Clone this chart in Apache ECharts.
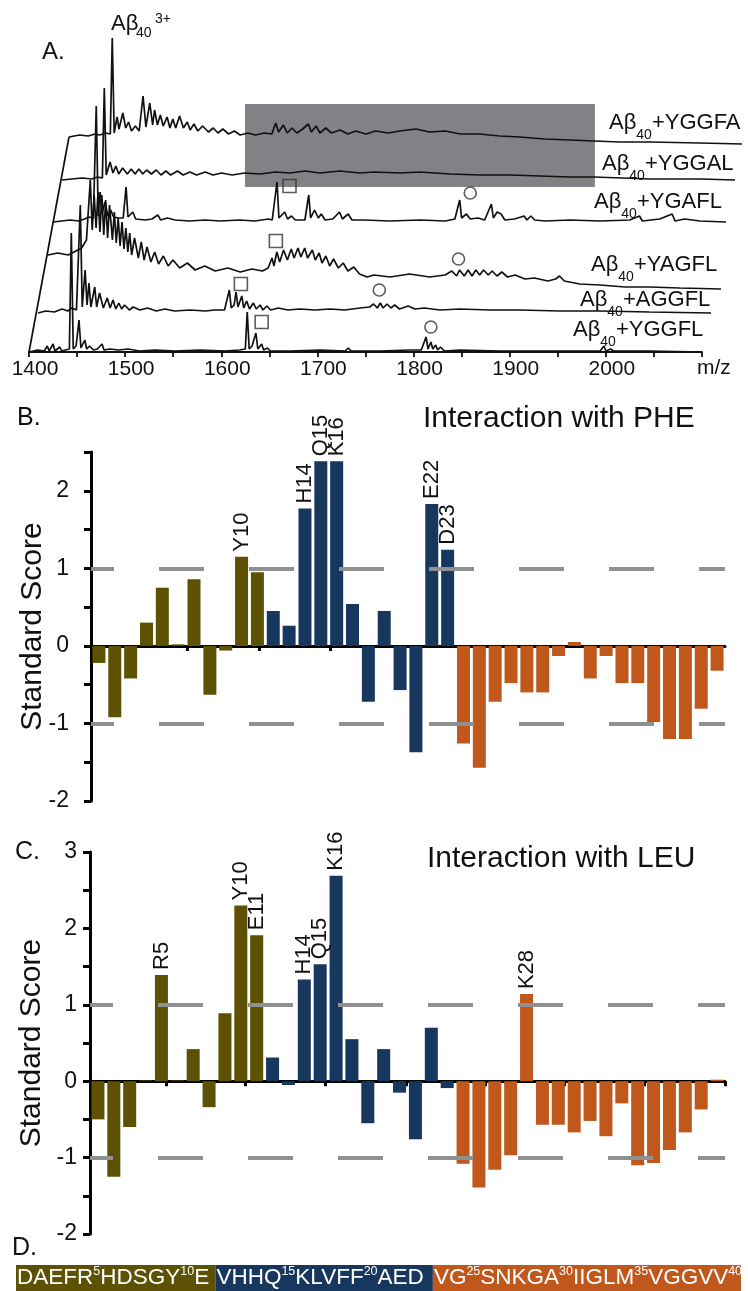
<!DOCTYPE html>
<html><head><meta charset="utf-8">
<script src="https://cdn.jsdelivr.net/npm/echarts@6/dist/echarts.min.js"></script>
<style>html,body{margin:0;padding:0;background:#fff}#c{width:748px;height:1291px}</style>
</head><body><div id="c"></div><script>
// ---------- DATA ----------
const sequence = 'DAEFRHDSGYEVHHQKLVFFAEDVGSNKGAIIGLMVGGVV';
const regionLengths = [11, 12, 17];
const regionColors = ['#5d5204', '#17375f', '#c0581c'];

const pheScores = [-0.22,-0.92,-0.42,0.30,0.75,0.02,0.86,-0.63,-0.06,1.15,0.95,0.45,0.26,1.77,2.38,2.38,0.54,-0.72,0.45,-0.57,-1.37,1.83,1.24,-1.26,-1.57,-0.72,-0.48,-0.60,-0.60,-0.13,0.05,-0.42,-0.13,-0.48,-0.48,-0.98,-1.20,-1.20,-0.81,-0.32];
const leuScores = [-0.50,-1.25,-0.60,0.01,1.39,0.01,0.42,-0.34,0.89,2.30,1.91,0.31,-0.05,1.33,1.53,2.69,0.55,-0.55,0.42,-0.15,-0.76,0.70,-0.09,-1.08,-1.39,-1.16,-0.97,1.14,-0.57,-0.57,-0.67,-0.52,-0.72,-0.29,-1.10,-1.07,-0.90,-0.67,-0.37,0.02];
const pheLabeled = [10,14,15,16,22,23];
const leuLabeled = [5,10,11,14,15,16,28];
const pheZeroTicks = [1.5,6.1,10.6,15.1,19.6,24.2,28.7,33.2,37.7];
const leuZeroTicks = [4.8,9.8,14.8,19.9,24.9,29.9,34.9,40];

const peptides = ['YGGFA','YGGAL','YGAFL','YAGFL','AGGFL','YGGFL'];
const specYGGFA = [[1400,0],[1411,2],[1420,1],[1427,3],[1432,2],[1438,4],[1443,3],[1445,99],[1447,4],[1450,20],[1452,8],[1454,10],[1456,24],[1459,9],[1462,15],[1465,6],[1469,11],[1473,6],[1477,41],[1480,10],[1484,34],[1487,12],[1489,27],[1492,12],[1495,22],[1498,11],[1502,20],[1505,9],[1508,18],[1511,9],[1515,21],[1519,9],[1523,15],[1526,7],[1530,13],[1534,6],[1539,11],[1545,5],[1550,9],[1555,4],[1560,8],[1566,3],[1572,6],[1578,2],[1586,4],[1594,2],[1603,4],[1611,3],[1615,14],[1618,5],[1623,12],[1627,4],[1632,9],[1637,4],[1643,8],[1649,13],[1652,5],[1657,11],[1661,4],[1667,9],[1673,4],[1682,7],[1690,3],[1698,6],[1709,3],[1719,6],[1732,4],[1744,6],[1761,8],[1775,5],[1791,6],[1807,3],[1827,3],[1848,1],[1869,0],[1895,-2],[1921,-3],[1946,-4],[1973,-5],[2004,-5],[2056,-6],[2100,-7]];
const specYGGAL = [[1400,0],[1410,1],[1421,2],[1431,1],[1437,3],[1442,2],[1444,92],[1446,5],[1450,18],[1453,7],[1456,14],[1459,6],[1463,12],[1468,6],[1472,11],[1476,6],[1480,11],[1484,6],[1488,10],[1493,6],[1498,10],[1503,5],[1508,9],[1513,5],[1520,9],[1526,5],[1533,8],[1540,5],[1549,8],[1557,5],[1566,7],[1577,5],[1590,7],[1606,6],[1622,8],[1637,7],[1653,9],[1668,7],[1689,9],[1710,7],[1724,8],[1752,7],[1772,8],[1804,6],[1835,5],[1866,5],[1897,4],[1928,3],[1953,3],[2012,1],[2064,1],[2100,0]];
const specYGAFL = [[1400,0],[1409,1],[1418,2],[1426,1],[1433,3],[1437,5],[1442,4],[1445,116],[1447,6],[1449,30],[1451,8],[1454,20],[1457,6],[1460,12],[1463,5],[1468,4],[1473,4],[1476,35],[1478,5],[1483,10],[1486,3],[1496,2],[1503,3],[1509,7],[1512,2],[1519,4],[1527,2],[1542,1],[1558,2],[1574,1],[1594,2],[1610,1],[1624,3],[1628,2],[1633,40],[1635,4],[1641,10],[1644,3],[1648,6],[1652,2],[1662,2],[1666,27],[1668,4],[1672,12],[1676,4],[1679,8],[1683,2],[1691,3],[1698,10],[1701,3],[1707,8],[1711,2],[1724,2],[1750,1],[1782,2],[1808,1],[1818,3],[1823,22],[1825,4],[1830,8],[1834,3],[1842,4],[1849,2],[1856,18],[1858,4],[1862,10],[1866,8],[1870,2],[1880,3],[1890,6],[1893,2],[1897,6],[1901,2],[1912,1],[1938,2],[1969,1],[2000,2],[2010,6],[2013,1],[2031,3],[2044,8],[2047,1],[2057,3],[2073,1],[2100,0]];
const specYAGFL = [[1400,0],[1410,2],[1421,0],[1429,4],[1435,7],[1440,15],[1444,75],[1446,25],[1448,60],[1450,27],[1452,63],[1454,23],[1456,60],[1458,20],[1460,55],[1462,17],[1464,50],[1467,15],[1469,43],[1471,12],[1473,37],[1475,9],[1477,33],[1479,6],[1481,27],[1483,3],[1485,22],[1487,0],[1490,17],[1494,-3],[1497,13],[1500,-5],[1503,8],[1507,-7],[1511,3],[1515,-9],[1520,-1],[1525,-11],[1530,-5],[1537,-13],[1545,-8],[1553,-15],[1563,-11],[1574,-16],[1587,-13],[1600,-17],[1612,-14],[1623,-16],[1629,-13],[1633,-3],[1635,-11],[1638,3],[1641,-7],[1645,5],[1649,-5],[1653,6],[1656,-3],[1660,7],[1663,-2],[1667,7],[1670,-3],[1675,5],[1678,-5],[1682,2],[1685,-8],[1689,-1],[1693,-11],[1697,-4],[1702,-13],[1707,-8],[1712,-16],[1718,-12],[1724,-19],[1732,-22],[1739,-20],[1756,-22],[1776,-19],[1797,-22],[1813,-20],[1820,-16],[1825,-21],[1828,-15],[1833,-21],[1837,-15],[1841,-21],[1845,-15],[1849,-20],[1853,-15],[1858,-20],[1862,-16],[1867,-21],[1872,-17],[1878,-22],[1886,-20],[1896,-24],[1906,-23],[1920,-26],[1928,-24],[1932,-21],[1937,-26],[1953,-29],[1974,-30],[2000,-32],[2026,-32],[2057,-33],[2100,-34]];
const specAGGFL = [[1400,0],[1408,2],[1417,1],[1425,4],[1431,2],[1435,5],[1440,3],[1444,108],[1446,6],[1449,43],[1451,8],[1453,30],[1455,6],[1459,26],[1461,6],[1464,20],[1468,5],[1472,15],[1475,5],[1478,13],[1481,4],[1484,10],[1487,4],[1490,8],[1495,3],[1499,6],[1506,3],[1514,5],[1523,2],[1532,4],[1542,2],[1558,3],[1574,2],[1584,3],[1594,3],[1599,23],[1601,5],[1604,8],[1606,21],[1608,6],[1612,17],[1614,5],[1617,12],[1620,4],[1624,10],[1627,4],[1631,8],[1634,3],[1638,7],[1642,3],[1650,5],[1660,3],[1672,4],[1688,3],[1704,4],[1719,3],[1735,5],[1745,6],[1749,9],[1753,5],[1756,10],[1759,5],[1763,9],[1767,5],[1771,8],[1776,4],[1785,7],[1792,4],[1802,5],[1818,3],[1839,4],[1870,3],[1901,3],[1943,2],[1984,2],[2036,1],[2100,0]];
const specYGGFL = [[1400,0],[1409,2],[1416,1],[1419,6],[1421,1],[1425,8],[1427,1],[1432,5],[1434,1],[1438,2],[1442,3],[1444,119],[1446,3],[1449,6],[1452,32],[1454,4],[1458,12],[1460,3],[1463,6],[1467,2],[1471,3],[1476,8],[1478,2],[1484,3],[1493,2],[1503,3],[1515,1],[1531,2],[1552,1],[1578,2],[1604,1],[1619,2],[1625,3],[1627,40],[1629,3],[1632,6],[1636,19],[1638,3],[1642,8],[1644,2],[1648,4],[1651,1],[1671,1],[1703,2],[1729,1],[1732,4],[1735,1],[1765,1],[1796,2],[1808,2],[1813,15],[1815,3],[1818,10],[1820,3],[1823,7],[1825,2],[1828,5],[1832,1],[1848,2],[1890,1],[1942,1],[1983,1],[1994,1],[1998,6],[2000,1],[2005,3],[2008,1],[2046,1],[2100,0]];
const squareMarks = [null, null, [1646,36], [1637,14], [1611,29], [1642,30]];
const circleMarks = [null, null, [1834,29], [1827,-4], [1755,23], [1818,25]];
const mzTickLabels = [1400,1500,1600,1700,1800,1900,2000];
const shadedRange = [[1583,-50],[1947,33]];

// ---------- LAYOUT ----------
const FONT = 'Liberation Sans';
const spectra = [specYGGFA, specYGGAL, specYGAFL, specYAGFL, specAGGFL, specYGGFL];
const traceLeft = [69, 62, 53, 48, 38, 29];
const traceBase = [137, 180, 222, 255, 313, 352];

const grid = [], xAxis = [], yAxis = [], series = [];
spectra.forEach((d, k) => {
  const front = k === spectra.length - 1;
  const yMin = front ? 0 : -60;
  grid.push({left: traceLeft[k], width: 673, top: traceBase[k] - 130, height: 130 - yMin});
  xAxis.push({
    type: 'value', gridIndex: k, min: 1400, max: 2100, interval: 50, show: front,
    axisLine: {show: front, onZero: false, lineStyle: {color: '#111', width: 1.8}},
    axisTick: {show: front, length: 5, lineStyle: {color: '#111', width: 1.8}},
    axisLabel: {show: front, margin: 7, fontSize: 21, fontFamily: FONT, color: '#111', padding: [0, 0, 0, 12],
      formatter: v => mzTickLabels.indexOf(v) >= 0 ? String(v) : ''},
    splitLine: {show: false}
  });
  yAxis.push({type: 'value', gridIndex: k, min: yMin, max: 130, show: false, splitLine: {show: false}});
  const s = {
    type: 'line', xAxisIndex: k, yAxisIndex: k, data: d, showSymbol: false, silent: true, z: 3,
    lineStyle: {color: '#111', width: 1.7}
  };
  if (k === 0) {
    s.markArea = {silent: true, itemStyle: {color: '#808285'},
      data: [[{coord: shadedRange[0]}, {coord: shadedRange[1]}]]};
  }
  series.push(s);
  if (squareMarks[k]) series.push({type: 'scatter', xAxisIndex: k, yAxisIndex: k, data: [squareMarks[k]], symbol: 'rect', symbolSize: 13, silent: true, z: 4,
    itemStyle: {color: 'rgba(255,255,255,0)', borderColor: '#333', borderWidth: 1.6}});
  if (circleMarks[k]) series.push({type: 'scatter', xAxisIndex: k, yAxisIndex: k, data: [circleMarks[k]], symbol: 'circle', symbolSize: 12, silent: true, z: 4,
    itemStyle: {color: 'rgba(255,255,255,0)', borderColor: '#333', borderWidth: 1.6}});
});

function regionOf(i) { // i: 1-based residue
  let acc = 0;
  for (let r = 0; r < regionLengths.length; r++) { acc += regionLengths[r]; if (i <= acc) return r; }
  return regionLengths.length - 1;
}
const resNames = sequence.split('').map((c, i) => c + (i + 1));

function scorePanel(gi, scores, labeled, zeroTicks, box, yMax, labelMargin) {
  const xi = xAxis.length, yi = yAxis.length;
  grid.push(box);
  xAxis.push({type: 'category', gridIndex: gi, data: resNames,
    axisLine: {onZero: true, lineStyle: {color: '#000', width: 3}},
    axisTick: {show: false}, axisLabel: {show: false}, splitLine: {show: false}});
  xAxis.push({type: 'value', gridIndex: gi, min: 0, max: 40, position: 'bottom',
    axisLine: {show: false, onZero: true, onZeroAxisIndex: yi},
    axisTick: {show: true, inside: false, length: 5, customValues: zeroTicks, lineStyle: {color: '#000', width: 3}},
    axisLabel: {show: false}, splitLine: {show: false}});
  yAxis.push({type: 'value', gridIndex: gi, min: -2, max: yMax, interval: 0.5,
    axisLine: {show: true, lineStyle: {color: '#000', width: 3}},
    axisTick: {show: true, length: 7, lineStyle: {color: '#000', width: 3}},
    axisLabel: {fontSize: 23, fontFamily: FONT, color: '#111', margin: labelMargin,
      formatter: v => (v % 1 === 0) ? String(v) : ''},
    splitLine: {show: false},
    name: 'Standard Score', nameLocation: 'middle', nameGap: 43, nameRotate: 90, nameMoveOverlap: false,
    nameTextStyle: {fontSize: 30, fontFamily: FONT, color: '#111'}});
  series.push({
    type: 'bar', xAxisIndex: xi, yAxisIndex: yi, barCategoryGap: '18%', silent: true,
    data: scores.map((v, i) => ({
      value: v,
      itemStyle: {color: regionColors[regionOf(i + 1)]},
      label: {show: labeled.indexOf(i + 1) >= 0, position: 'top', rotate: 90, align: 'left', verticalAlign: 'middle',
        distance: 5, fontSize: 22, fontFamily: FONT, color: '#111', formatter: resNames[i]}
    })),
    markLine: {silent: true, symbol: ['none', 'none'], label: {show: false},
      lineStyle: {color: '#8e9094', width: 4, type: [45, 45], dashOffset: 22},
      data: [{yAxis: 1}, {yAxis: -1}]}
  });
}
scorePanel(6, pheScores, pheLabeled, pheZeroTicks, {left: 91, top: 452, width: 634, height: 349}, 2.5, 22);
scorePanel(7, leuScores, leuLabeled, leuZeroTicks, {left: 90, top: 852, width: 635, height: 382}, 3, 13);

// Panel D: sequence band
grid.push({left: 16, width: 725, top: 1265, height: 26});
const dx = xAxis.length, dy = yAxis.length;
xAxis.push({type: 'value', gridIndex: 8, min: 0, max: 40, show: false});
yAxis.push({type: 'category', gridIndex: 8, data: ['Aβ40'], show: false});
let start = 0;
regionLengths.forEach((len, r) => {
  let txt = '';
  for (let i = start; i < start + len; i++) {
    txt += sequence[i];
    if ((i + 1) % 5 === 0) txt += '{s|' + (i + 1) + '}';
  }
  start += len;
  series.push({type: 'bar', xAxisIndex: dx, yAxisIndex: dy, stack: 'seq', barWidth: '100%', silent: true,
    data: [len], itemStyle: {color: regionColors[r]},
    label: {show: true, position: 'insideLeft', distance: 1, formatter: txt, color: '#fff', fontSize: 22.5, fontFamily: FONT, lineHeight: 26,
      rich: {s: {fontSize: 12.5, color: '#fff', fontFamily: FONT, verticalAlign: 'top', lineHeight: 19}}}});
});

// ---------- TEXT ----------
function txt(x, y, text, size, rich) {
  return {type: 'text', x: x, y: y, silent: true, z: 10,
    style: {text: text, fontSize: size, fontFamily: FONT, fill: '#111', align: 'left', verticalAlign: 'middle', rich: rich || {}}};
}
const subRich = {a: {fontSize: 22, fontFamily: FONT, fill: '#111', lineHeight: 38},
  s: {fontSize: 14, fontFamily: FONT, fill: '#111', lineHeight: 13, verticalAlign: 'bottom'}};
const traceLabelPos = [[609,123],[602,164],[594,202],[591,265],[580,300],[573,330]];
const graphic = [
  {type: 'line', silent: true, z: 5, shape: {x1: 29, y1: 352, x2: 69, y2: 137}, style: {stroke: '#111', lineWidth: 1.7}},
  txt(42, 52, 'A.', 24), txt(17, 418, 'B.', 25), txt(15, 852, 'C.', 25), txt(12, 1248, 'D.', 25),
  txt(423, 419, 'Interaction with PHE', 30), txt(427, 859, 'Interaction with LEU', 30),
  txt(697, 368, 'm/z', 21),
  txt(111, 24, 'Aβ', 22), txt(136, 33, '40', 14), txt(155, 19, '3+', 14)
];
peptides.forEach((p, k) => {
  graphic.push(txt(traceLabelPos[k][0], traceLabelPos[k][1], '{a|Aβ}{s|40}{a|+' + p + '}', 22, subRich));
});

const chart = echarts.init(document.getElementById('c'), null, {renderer: 'canvas'});
chart.setOption({animation: false, backgroundColor: '#fff', textStyle: {fontFamily: FONT},
  grid, xAxis, yAxis, series, graphic});
</script></body></html>
